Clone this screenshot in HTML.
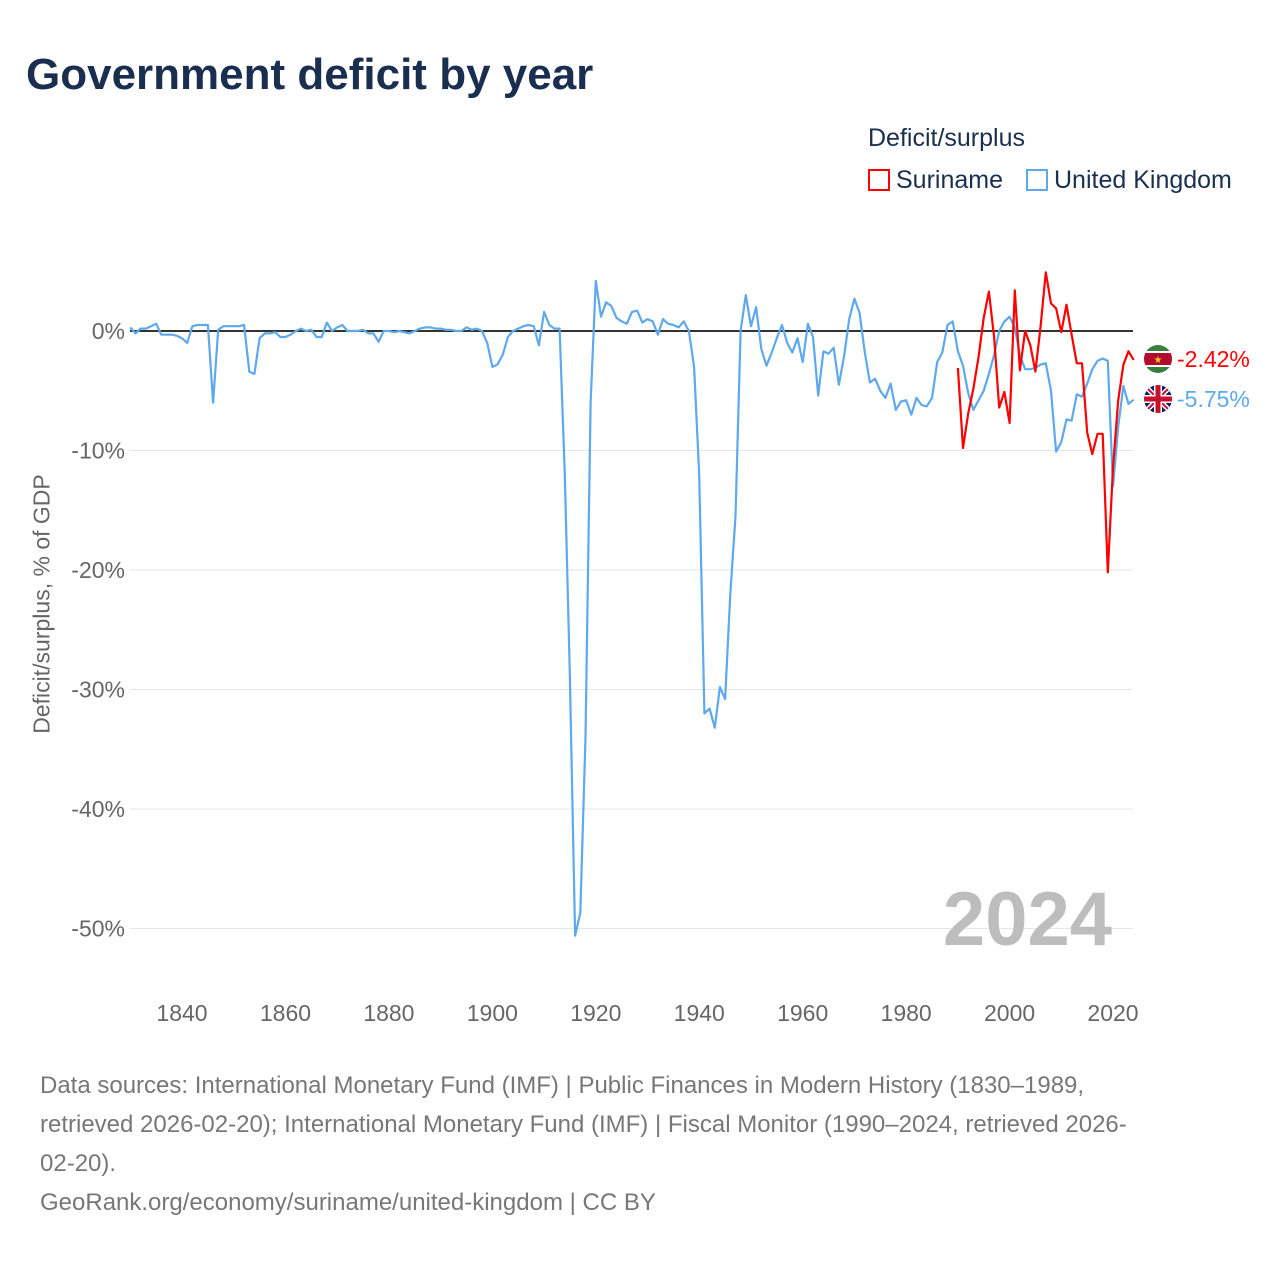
<!DOCTYPE html>
<html><head><meta charset="utf-8"><style>
body{margin:0;background:#fff;font-family:"Liberation Sans",sans-serif;}
#wrap{position:relative;width:1280px;height:1280px;overflow:hidden;}
.t{position:absolute;white-space:nowrap;}
</style></head><body>
<div id="wrap">
<div class="t" style="left:26px;top:50px;font-size:44px;font-weight:bold;color:#1a2e4f;">Government deficit by year</div>
<div class="t" style="left:868px;top:124px;font-size:25px;color:#1a2e4f;">Deficit/surplus</div>
<div class="t" style="left:868px;top:166px;font-size:25px;color:#1a2e4f;"><span style="display:inline-block;width:22px;height:22px;border:2px solid #f00;box-sizing:border-box;vertical-align:-3px;margin-right:6px;"></span>Suriname</div>
<div class="t" style="left:1026px;top:166px;font-size:25px;color:#1a2e4f;"><span style="display:inline-block;width:22px;height:22px;border:2px solid #5ea8ec;box-sizing:border-box;vertical-align:-3px;margin-right:6px;"></span>United Kingdom</div>
<div class="t" style="left:42px;top:604px;font-size:23px;color:#666;transform:translate(-50%,-50%) rotate(-90deg);transform-origin:center;">Deficit/surplus, % of GDP</div>
<svg id="plot" width="1280" height="1280" style="position:absolute;left:0;top:0;"></svg>
<div class="t" style="left:40px;top:1066px;font-size:24px;line-height:39px;color:#777;">Data sources: International Monetary Fund (IMF) | Public Finances in Modern History (1830–1989,<br>retrieved 2026-02-20); International Monetary Fund (IMF) | Fiscal Monitor (1990–2024, retrieved 2026-<br>02-20).<br>GeoRank.org/economy/suriname/united-kingdom | CC BY</div>
</div>
<script>
const ukStart = 1830;
const ukValues = [0.3,-0.2,0.2,0.2,0.4,0.6,-0.3,-0.3,-0.3,-0.4,-0.6,-1,0.4,0.5,0.5,0.5,-6,0.1,0.4,0.4,
0.4,0.4,0.5,-3.4,-3.6,-0.6,-0.2,-0.2,-0.1,-0.5,-0.5,-0.3,0,0.2,0,0.1,-0.5,-0.5,0.7,0,
0.3,0.5,0,0,0,0.1,-0.2,-0.2,-0.9,0,0,-0.1,0,-0.1,-0.2,0,0.2,0.3,0.3,0.2,
0.2,0.1,0.1,0,0,0.3,0.1,0.2,0,-1,-3,-2.8,-2,-0.5,0,0.2,0.4,0.5,0.4,-1.2,
1.6,0.5,0.2,0.2,-12,-29,-50.6,-48.7,-34,-6,4.2,1.2,2.4,2.1,1.1,0.8,0.6,1.6,1.7,0.7,
1,0.8,-0.3,1,0.6,0.5,0.3,0.8,0,-3,-12,-32,-31.6,-33.2,-29.8,-30.8,-22,-15.5,0,3,
0.4,2,-1.5,-2.9,-1.8,-0.6,0.5,-1,-1.8,-0.6,-2.6,0.6,-0.5,-5.4,-1.7,-1.9,-1.4,-4.5,-2.1,1,
2.7,1.5,-1.8,-4.3,-4,-5,-5.6,-4.4,-6.6,-5.9,-5.8,-7,-5.6,-6.2,-6.3,-5.6,-2.6,-1.8,0.5,0.8,
-1.7,-2.9,-5.2,-6.6,-5.8,-5,-3.6,-2,0,0.8,1.2,0.3,-2,-3.2,-3.2,-3.1,-2.8,-2.7,-5,-10.1,
-9.3,-7.4,-7.5,-5.3,-5.5,-4.4,-3.2,-2.5,-2.3,-2.5,-13,-8,-4.6,-6.1,-5.75];
const srStart = 1990;
const srValues = [-3.1,-9.8,-6.9,-4.8,-2.2,1.1,3.3,-0.5,-6.4,-5.1,-7.7,3.4,-3.3,0,-1.2,-3.4,0.4,4.9,2.3,1.9,
-0.1,2.2,-0.3,-2.7,-2.7,-8.5,-10.3,-8.6,-8.6,-20.2,-11.4,-5.8,-2.8,-1.7,-2.42];
const yTicks = [0,-10,-20,-30,-40,-50];
const xTicks = [1840,1860,1880,1900,1920,1940,1960,1980,2000,2020];

const NS="http://www.w3.org/2000/svg";
const svg=document.getElementById('plot');
const X=y=>130.3+(y-1830)*(1113-182)/180;
const Y=v=>331-v*11.95;
function mk(tag,attrs){const e=document.createElementNS(NS,tag);for(const k in attrs)e.setAttribute(k,attrs[k]);svg.appendChild(e);return e;}
yTicks.forEach(v=>{
  const l=mk('line',{x1:130,x2:1133,y1:Y(v),y2:Y(v),stroke:v===0?'#333':'#e6e6e6','stroke-width':v===0?2:1});
  
  
  const t=mk('text',{x:125,y:Y(v)+8,'text-anchor':'end','font-size':23,fill:'#666','font-family':'Liberation Sans,sans-serif'});
  t.textContent=v+'%';
  
  
});
xTicks.forEach(yr=>{
  const t=mk('text',{x:X(yr),y:1021,'text-anchor':'middle','font-size':23,fill:'#666','font-family':'Liberation Sans,sans-serif'});
  t.textContent=yr;
  
  
});
const yl=mk('text',{x:1112,y:945,'text-anchor':'end','font-size':76,'font-weight':'bold',fill:'#bdbdbd','font-family':'Liberation Sans,sans-serif'});
yl.textContent='2024';


function series(start,vals,color,name){
  const d=vals.map((v,i)=>(i?'L':'M')+X(start+i).toFixed(1)+','+Y(v).toFixed(1)).join('');
  const p=mk('path',{d:d,fill:'none',stroke:color,'stroke-width':2.2,'stroke-linejoin':'round'});
  
  
}
series(ukStart,ukValues,'#5ea8ec','line-united-kingdom');
series(srStart,srValues,'#f00','line-suriname');
function endLabel(v,color,name,ly,flag){
  const g=mk('g',{});
  
  
  const cx=1158;
  if(flag==='sr'){
    g.innerHTML='<clipPath id="c1"><circle cx="'+cx+'" cy="'+ly+'" r="14"/></clipPath><g clip-path="url(#c1)"><rect x="1144" y="'+(ly-14)+'" width="28" height="28" fill="#377e3f"/><rect x="1144" y="'+(ly-8)+'" width="28" height="16" fill="#fff"/><rect x="1144" y="'+(ly-6)+'" width="28" height="12" fill="#b40a2d"/><text x="'+cx+'" y="'+(ly+4)+'" text-anchor="middle" font-size="10" fill="#ecc81d">★</text></g>';
  } else {
    g.innerHTML='<clipPath id="c2"><circle cx="'+cx+'" cy="'+ly+'" r="14"/></clipPath><g clip-path="url(#c2)"><rect x="1144" y="'+(ly-14)+'" width="28" height="28" fill="#012169"/><path d="M1144 '+(ly-14)+'L1172 '+(ly+14)+'M1172 '+(ly-14)+'L1144 '+(ly+14)+'" stroke="#fff" stroke-width="5"/><path d="M1144 '+(ly-14)+'L1172 '+(ly+14)+'M1172 '+(ly-14)+'L1144 '+(ly+14)+'" stroke="#c8102e" stroke-width="2"/><rect x="1144" y="'+(ly-4)+'" width="28" height="8" fill="#fff"/><rect x="'+(cx-4)+'" y="'+(ly-14)+'" width="8" height="28" fill="#fff"/><rect x="1144" y="'+(ly-2.5)+'" width="28" height="5" fill="#c8102e"/><rect x="'+(cx-2.5)+'" y="'+(ly-14)+'" width="5" height="28" fill="#c8102e"/></g>';
  }
  const t=mk('text',{x:1177,y:ly+8,'font-size':23,fill:color,'font-family':'Liberation Sans,sans-serif'});
  t.textContent=v.toFixed(2)+'%';
  
  
}
endLabel(srValues[srValues.length-1],'#f00','end-label-suriname',359,'sr');
endLabel(ukValues[ukValues.length-1],'#5ea8ec','end-label-united-kingdom',399,'uk');
</script>
</body></html>
